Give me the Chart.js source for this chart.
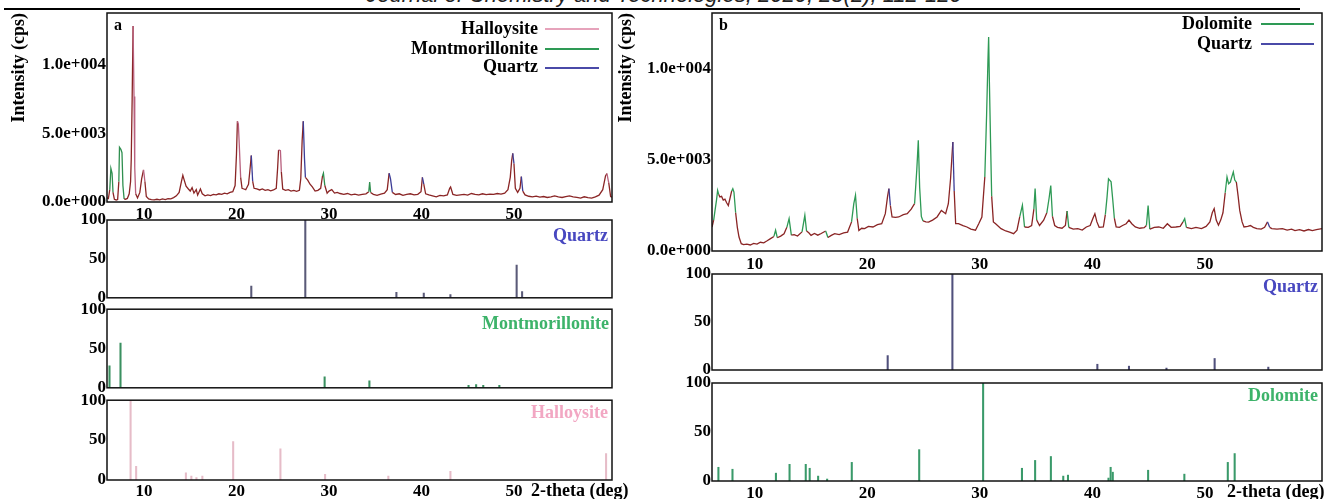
<!DOCTYPE html>
<html>
<head>
<meta charset="utf-8">
<script src="https://cdn.jsdelivr.net/npm/chart.js@4.4.1/dist/chart.umd.min.js"></script>
<style>
  body { margin: 0; width: 1328px; height: 499px; background: #fff; position: relative; overflow: hidden; font-family: 'Liberation Serif', serif; }
  canvas { position: absolute; }
  .t { position: absolute; font-weight: bold; font-size: 18px; line-height: 18px; white-space: nowrap; color: #000; }
  .r { text-align: right; }
  .ln { position: absolute; height: 1.5px; }
  #header { position: absolute; left: 0; width: 1328px; top: -16px; text-align: center; font-family: 'Liberation Sans', sans-serif; font-style: italic; font-size: 22px; line-height: 22px; color: #222; }
  #rule { position: absolute; left: 4px; top: 8px; width: 1296px; height: 2px; background: #000; }
</style>
</head>
<body>
<div id="header">Journal of Chemistry and Technologies, 2020, 28(2), 112-120</div>
<div id="rule"></div>

<canvas id="aMain"></canvas>
<canvas id="aQuartz"></canvas>
<canvas id="aMont"></canvas>
<canvas id="aHall"></canvas>
<canvas id="bMain"></canvas>
<canvas id="bQuartz"></canvas>
<canvas id="bDol"></canvas>

<div class="t" style="left:114px;top:16px;font-size:16px">a</div>
<div class="t" style="left:719px;top:16px;font-size:16px">b</div>

<div class="t r" style="right:790px;top:19px">Halloysite</div>
<div class="ln" style="left:545px;top:28px;width:54px;background:#e6a3bb"></div>
<div class="t r" style="right:790px;top:39px">Montmorillonite</div>
<div class="ln" style="left:545px;top:48px;width:54px;background:#2e9a55"></div>
<div class="t r" style="right:790px;top:57px">Quartz</div>
<div class="ln" style="left:545px;top:67px;width:54px;background:#4a4aa8"></div>

<div class="t r" style="right:76px;top:14px">Dolomite</div>
<div class="ln" style="left:1261px;top:23px;width:53px;background:#2e9a55"></div>
<div class="t r" style="right:76px;top:34px">Quartz</div>
<div class="ln" style="left:1261px;top:43px;width:53px;background:#4a4aa8"></div>

<div class="t r" style="right:720px;top:226px;color:#4848c0">Quartz</div>
<div class="t r" style="right:719px;top:314px;color:#3db36a">Montmorillonite</div>
<div class="t r" style="right:720px;top:403px;color:#f2a7c3">Halloysite</div>
<div class="t r" style="right:10px;top:277px;color:#4848c0">Quartz</div>
<div class="t r" style="right:10px;top:386px;color:#3db36a">Dolomite</div>

<div class="t" style="left:531px;top:481px">2-theta (deg)</div>
<div class="t" style="left:1227px;top:482px">2-theta (deg)</div>

<script>
// ---- panel a : measured pattern ----
const aTheta = [6.0,6.15,6.3,6.42,6.55,6.65,6.8,7.0,7.15,7.28,
  7.35,7.5,7.62,7.72,7.85,8.0,8.2,8.4,8.55,8.62,
  8.72,8.82,8.92,9.0,9.1,9.3,9.55,9.75,9.95,10.1,
  10.25,10.5,10.8,11.1,11.4,11.7,12.0,12.3,12.6,12.9,
  13.2,13.5,13.8,14.05,14.2,14.35,14.55,14.8,15.0,15.2,
  15.4,15.65,15.8,16.1,16.3,16.6,16.9,17.2,17.5,17.8,
  18.1,18.4,18.7,19.0,19.3,19.6,19.85,20.0,20.1,20.2,
  20.3,20.45,20.6,20.8,21.0,21.3,21.45,21.6,21.75,21.9,
  22.2,22.5,22.8,23.1,23.4,23.7,24.0,24.3,24.45,24.55,
  24.75,24.85,25.0,25.3,25.6,25.9,26.2,26.5,26.8,26.95,
  27.1,27.22,27.35,27.45,27.7,27.95,28.2,28.5,28.8,29.1,
  29.3,29.4,29.55,29.8,30.0,30.3,30.6,30.9,31.2,31.6,
  32.0,32.4,32.8,33.2,33.6,34.0,34.3,34.4,34.5,34.8,
  35.2,35.6,36.0,36.3,36.5,36.65,36.85,37.2,37.6,38.0,
  38.4,38.8,39.2,39.6,39.95,40.1,40.25,40.45,40.8,41.2,
  41.6,42.0,42.4,42.8,43.05,43.15,43.4,43.8,44.2,44.6,
  45.0,45.4,45.8,46.2,46.6,47.0,47.4,47.8,48.2,48.6,
  49.0,49.35,49.6,49.75,49.87,50.0,50.15,50.4,50.65,50.8,
  50.95,51.2,51.6,52.0,52.4,52.8,53.2,53.6,54.0,54.4,
  54.8,55.2,55.6,56.0,56.4,56.8,57.2,57.6,58.0,58.4,
  58.8,59.2,59.6,59.9,60.05,60.25,60.45,60.6];
const aCps = [300,250,900,2450,2100,700,200,150,180,1500,
  4000,3850,3600,1200,220,200,260,600,1500,3100,
  7500,12850,7700,2500,600,300,700,1700,2350,1500,
  400,230,180,150,200,160,220,180,250,230,
  320,450,700,1500,1950,1600,1150,950,800,1050,
  650,900,500,950,600,450,520,470,560,520,
  600,560,650,600,700,750,1200,3500,5900,5700,
  4200,1800,1000,950,900,1300,2300,3400,1500,1000,
  950,880,950,850,900,820,880,1000,2500,3800,
  3750,2200,950,850,900,800,850,780,850,1700,
  4500,5900,3200,1800,1600,1300,1100,800,850,1000,
  1900,2100,1200,650,800,900,650,700,620,560,
  620,520,580,500,560,600,750,1450,700,560,
  480,580,650,900,2100,1700,700,550,600,480,
  550,600,520,560,750,1800,1300,600,520,450,
  380,480,450,520,1000,1100,550,480,520,560,
  500,620,560,520,600,540,580,560,620,580,
  650,900,1800,3000,3550,2800,1000,700,1000,1850,
  800,520,420,380,430,360,400,330,380,450,
  380,330,400,450,380,330,280,380,320,280,
  380,500,900,1900,2080,1400,400,350];
// identified phase per 2-theta range (H halloysite, M montmorillonite, Q quartz)
const aPhases = [
  [6.25, 6.7, 'M'], [7.25, 7.8, 'M'], [8.5, 9.05, 'H'], [9.7, 10.15, 'H'],
  [19.95, 20.5, 'H'], [21.25, 21.8, 'Q'], [24.4, 24.9, 'H'], [26.9, 27.5, 'Q'],
  [29.25, 29.6, 'M'], [34.3, 34.5, 'M'], [36.4, 36.9, 'Q'], [40.0, 40.3, 'Q'],
  [49.55, 50.05, 'Q'], [50.6, 50.95, 'Q'], [59.85, 60.3, 'H']
];

// ---- panel a : reference sticks ----
const aQzTheta = [21.6, 27.44, 37.29, 40.25, 43.13, 50.29, 50.88];
const aQzInt = [15, 100, 7, 6, 4, 42, 8];
const aMtTheta = [6.27, 7.46, 29.53, 34.37, 45.09, 45.91, 46.68, 48.42];
const aMtInt = [28, 57, 14, 9, 3, 4, 3, 3];
const aHaTheta = [8.55, 9.15, 14.53, 15.12, 15.67, 16.31, 19.64, 24.75, 29.58, 36.42, 43.13, 59.96];
const aHaInt = [100, 17, 9, 5, 3, 5, 48, 39, 7, 5, 11, 33];

// ---- panel b : measured pattern ----
const bTheta = [6.2,6.35,6.45,6.6,6.7,6.8,6.9,7.05,7.2,7.35,
  7.5,7.65,7.8,7.95,8.05,8.15,8.3,8.45,8.6,8.8,
  9.0,9.3,9.6,9.9,10.2,10.5,10.8,11.1,11.4,11.7,
  11.85,12.0,12.3,12.6,12.85,13.05,13.25,13.5,13.8,14.2,
  14.45,14.6,14.8,15.0,15.3,15.6,15.9,16.3,16.5,16.8,
  17.1,17.5,17.9,18.25,18.6,18.8,18.95,19.1,19.25,19.5,
  19.76,20.1,20.5,20.9,21.28,21.6,21.8,21.92,22.05,22.2,
  22.5,22.79,23.2,23.55,23.9,24.2,24.4,24.53,24.65,24.8,
  24.95,25.2,25.44,25.8,26.2,26.58,26.96,27.2,27.4,27.6,
  27.72,27.85,28.1,28.5,28.85,29.2,29.61,29.9,30.18,30.44,
  30.6,30.72,30.78,30.85,30.95,31.05,31.2,31.4,31.88,32.3,
  32.64,33.0,33.3,33.55,33.78,33.97,34.3,34.6,34.8,34.91,
  35.05,35.3,35.67,35.95,36.15,36.3,36.45,36.65,36.9,37.3,
  37.6,37.75,37.9,38.3,38.7,39.1,39.46,39.8,40.05,40.22,
  40.4,40.6,40.97,41.15,41.3,41.43,41.66,41.81,41.95,42.11,
  42.4,42.68,43.0,43.25,43.5,43.81,44.2,44.6,44.8,44.95,
  45.1,45.5,45.9,46.3,46.66,47.0,47.41,47.8,48.05,48.2,
  48.35,48.8,49.2,49.69,50.1,50.44,50.65,50.82,51.0,51.2,
  51.4,51.6,51.8,51.96,52.1,52.26,52.4,52.52,52.65,52.79,
  52.95,53.09,53.3,53.47,53.8,54.04,54.3,54.61,55.0,55.3,
  55.56,55.75,55.94,56.4,56.88,57.3,57.7,58.0,58.4,58.8,
  59.2,59.54,59.9,60.4];
const bCps = [1320,1700,2150,2800,3330,3100,2970,3000,2800,2850,
  2650,2500,2900,3300,3420,3240,2100,1300,770,400,
  350,380,330,420,380,480,450,560,680,800,
  1140,730,820,950,1300,1780,870,900,820,1050,
  1960,1100,1000,860,960,870,960,1100,740,860,
  950,900,1000,1040,1600,2600,3060,1800,1130,1250,
  1230,1350,1320,1450,1500,2050,3000,3430,2500,1870,
  1850,1870,2000,2050,2300,2600,4500,6080,3500,1900,
  1650,1600,1590,1700,1870,2230,2050,2600,4000,5990,
  3300,1500,1500,1400,1320,1200,1140,1500,1870,4070,
  7500,10500,11760,9200,6000,3000,1600,1500,1230,1100,
  1040,950,1150,1900,2510,1320,1300,1400,2300,3430,
  1700,1400,1690,2100,2900,3600,1900,1400,1300,1250,
  1400,2200,1300,1200,1230,1150,1320,1400,1800,2050,
  1600,1300,1320,2000,2960,3970,3800,2800,1800,1320,
  1300,1400,1500,1700,1500,1320,1250,1280,1400,2500,
  1200,1300,1320,1250,1500,1300,1320,1350,1600,1780,
  1300,1230,1300,1230,1350,1600,2100,2330,1700,1420,
  1700,2100,3200,4070,3700,3790,4100,4340,3900,3790,
  3000,2230,1600,1320,1350,1400,1300,1230,1200,1300,
  1600,1300,1230,1200,1230,1150,1200,1120,1170,1100,
  1180,1120,1170,1230];
// identified phase per 2-theta range (D dolomite, Q quartz)
const bPhases = [
  [6.4, 6.75, 'D'], [7.9, 8.35, 'D'], [11.75, 11.95, 'D'], [12.8, 13.15, 'D'],
  [14.3, 14.55, 'D'], [16.2, 16.4, 'D'], [18.55, 19.15, 'D'], [21.55, 22.1, 'Q'],
  [24.15, 24.9, 'D'], [27.15, 27.75, 'Q'], [30.4, 31.1, 'D'], [33.5, 33.9, 'D'],
  [34.75, 35.0, 'D'], [35.9, 36.5, 'D'], [37.7, 37.85, 'D'], [40.0, 40.3, 'Q'],
  [41.1, 42.0, 'D'], [44.85, 45.05, 'D'], [48.0, 48.3, 'D'], [50.6, 50.9, 'Q'],
  [51.75, 52.8, 'D'], [55.5, 55.7, 'Q']
];

// ---- panel b : reference sticks ----
const bQzTheta = [21.81, 27.56, 40.44, 43.25, 46.58, 50.86, 55.63];
const bQzInt = [15, 100, 6, 4, 2, 12, 3];
const bDoTheta = [6.77, 8.02, 11.88, 13.09, 14.53, 14.88, 15.63, 16.43, 18.62, 24.61, 30.29, 33.74,
  34.91, 36.31, 37.41, 37.83, 41.43, 41.62, 41.81, 44.95, 48.17, 52.03, 52.64];
const bDoInt = [14, 12, 8, 17, 17, 13, 5, 2, 19, 32, 100, 13, 21, 25, 5, 6, 3, 14, 9, 11, 7, 19, 28];

const thetaTicks = [10, 20, 30, 40, 50];
const cpsTicks = [0, 5000, 10000];
const relTicks = [0, 50, 100];

// ---- styling ----
const TRACE = '#8a2525';
const phaseColor = { H: '#b8607e', M: '#2f8f4f', Q: '#3c3c96', D: '#2e9a55' };
const tickFont = { family: 'Liberation Serif', weight: 'bold', size: 17 };

const framePlugin = {
  id: 'frame',
  afterDraw(chart) {
    const { ctx, chartArea: a } = chart;
    ctx.save();
    ctx.strokeStyle = '#111';
    ctx.lineWidth = 1.5;
    ctx.strokeRect(a.left, a.top, a.right - a.left, a.bottom - a.top);
    ctx.restore();
  }
};

function place(id, box, pad) {
  const c = document.getElementById(id);
  c.style.left = (box.l - pad.l) + 'px';
  c.style.top = (box.t - pad.t) + 'px';
  c.width = box.r - box.l + pad.l + pad.r;
  c.height = box.b - box.t + pad.t + pad.b;
  return c;
}

function fixedTicks(vals) {
  return s => { s.ticks = vals.map(v => ({ value: v })); };
}

function sciLabel(v) {
  return v.toExponential(1).replace(/e\+(\d+)/, (m, d) => 'e+' + d.padStart(3, '0'));
}

function xScale(range, pad, showLabels, labelPad) {
  return {
    type: 'linear', min: range[0], max: range[1], offset: false,
    afterBuildTicks: fixedTicks(thetaTicks),
    afterFit: s => { s.height = pad.b; },
    grid: { display: false, drawTicks: false },
    border: { display: false },
    ticks: { display: showLabels, font: tickFont, color: '#000', padding: labelPad, maxRotation: 0 }
  };
}

function tracePanel(id, box, pad, range, yMax, theta, cps, phases, labelPad) {
  const canvas = place(id, box, pad);
  const pts = theta.map((t, i) => ({ x: t, y: cps[i] }));
  // clay / carbonate peaks coloured fully, quartz & halloysite only on the falling flank
  const colorAt = (i0, i1) => {
    const t = (theta[i0] + theta[i1]) / 2;
    const hit = phases.find(p => t >= p[0] && t <= p[1]);
    if (!hit) return TRACE;
    const code = hit[2];
    if ((code === 'Q' || code === 'H') && cps[i1] > cps[i0]) return TRACE;
    return phaseColor[code];
  };
  return new Chart(canvas, {
    type: 'line',
    data: {
      datasets: [{
        data: pts, borderColor: TRACE, borderWidth: 1.3, pointRadius: 0, tension: 0,
        segment: { borderColor: ctx => colorAt(ctx.p0DataIndex, ctx.p1DataIndex) }
      }]
    },
    options: {
      responsive: false, animation: false, devicePixelRatio: 1,
      layout: { padding: { left: 0, top: pad.t, right: pad.r, bottom: 0 } },
      plugins: { legend: { display: false }, tooltip: { enabled: false } },
      scales: {
        x: xScale(range, pad, true, labelPad),
        y: {
          min: 0, max: yMax,
          afterBuildTicks: fixedTicks(cpsTicks),
          afterFit: s => { s.width = pad.l; },
          grid: { display: false, drawTicks: false },
          border: { display: false },
          ticks: { font: tickFont, color: '#000', padding: 1, callback: sciLabel },
          title: {
            display: true, text: 'Intensity (cps)', align: 'end', color: '#000', padding: 0,
            font: { family: 'Liberation Serif', weight: 'bold', size: 18 }
          }
        }
      }
    },
    plugins: [framePlugin]
  });
}

function stickPanel(id, box, pad, range, theta, rel, color, showLabels, labelPad) {
  const canvas = place(id, box, pad);
  return new Chart(canvas, {
    type: 'bar',
    data: {
      datasets: [{
        data: theta.map((t, i) => ({ x: t, y: rel[i] })),
        backgroundColor: color, borderWidth: 0, barThickness: 1.4
      }]
    },
    options: {
      responsive: false, animation: false, devicePixelRatio: 1,
      layout: { padding: { left: 0, top: pad.t, right: pad.r, bottom: 0 } },
      plugins: { legend: { display: false }, tooltip: { enabled: false } },
      scales: {
        x: xScale(range, pad, showLabels, labelPad),
        y: {
          min: 0, max: 100,
          afterBuildTicks: fixedTicks(relTicks),
          afterFit: s => { s.width = pad.l; },
          grid: { display: false, drawTicks: false },
          border: { display: false },
          ticks: { font: tickFont, color: '#000', padding: 1 }
        }
      }
    },
    plugins: [framePlugin]
  });
}

const aRange = [6.0, 60.6];
const bRange = [6.2, 60.4];

tracePanel('aMain', { l: 107, t: 13, r: 612, b: 202 }, { l: 98, t: 12, r: 6, b: 18 }, aRange, 13800, aTheta, aCps, aPhases, 2);
stickPanel('aQuartz', { l: 107, t: 220, r: 612, b: 298 }, { l: 60, t: 12, r: 6, b: 11 }, aRange, aQzTheta, aQzInt, '#5a5a78', false, 0);
stickPanel('aMont', { l: 107, t: 309, r: 612, b: 388 }, { l: 60, t: 11, r: 6, b: 11 }, aRange, aMtTheta, aMtInt, '#3a9060', false, 0);
stickPanel('aHall', { l: 107, t: 400, r: 612, b: 480 }, { l: 60, t: 11, r: 6, b: 19 }, aRange, aHaTheta, aHaInt, '#e6bcc8', true, 1);

tracePanel('bMain', { l: 712, t: 13, r: 1322, b: 251 }, { l: 96, t: 12, r: 5, b: 22 }, bRange, 13080, bTheta, bCps, bPhases, 3);
stickPanel('bQuartz', { l: 712, t: 274, r: 1322, b: 370 }, { l: 60, t: 12, r: 5, b: 12 }, bRange, bQzTheta, bQzInt, '#50507c', false, 0);
stickPanel('bDol', { l: 712, t: 383, r: 1322, b: 481 }, { l: 60, t: 12, r: 5, b: 18 }, bRange, bDoTheta, bDoInt, '#3a9a6a', true, 2);
</script>
</body>
</html>
